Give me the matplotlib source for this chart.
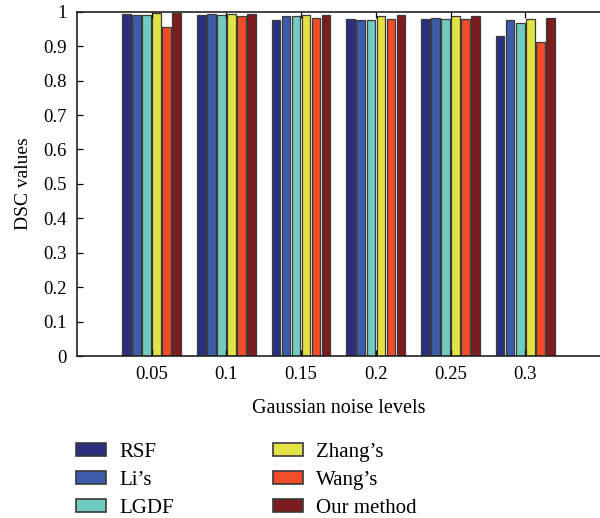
import numpy as np
import matplotlib.pyplot as plt

# data
noise_levels = ['0.05', '0.1', '0.15', '0.2', '0.25', '0.3']
methods = ['RSF', "Li’s", 'LGDF', "Zhang’s", "Wang’s", 'Our method']
rsf = [0.993, 0.991, 0.976, 0.978, 0.979, 0.930]
lis = [0.991, 0.992, 0.987, 0.977, 0.983, 0.976]
lgdf = [0.991, 0.991, 0.988, 0.977, 0.979, 0.966]
zhang = [0.996, 0.992, 0.991, 0.988, 0.988, 0.980]
wang = [0.956, 0.987, 0.982, 0.978, 0.979, 0.911]
ours = [0.996, 0.993, 0.991, 0.989, 0.988, 0.981]
colors = ['#2c2f7f', '#3b5ca8', '#72cbc0', '#e3e345', '#f04d28', '#7d1c1c']

series = [rsf, lis, lgdf, zhang, wang, ours]

plt.rcParams['font.family'] = ['Liberation Serif', 'DejaVu Serif']

fig = plt.figure(figsize=(6, 5.18), dpi=100)
ax = fig.add_axes([0.128, 0.3127, 0.872, 0.6647])

x = np.arange(1, len(noise_levels) + 1)
pitch = 0.134
w = 0.114
for i, (vals, name, c) in enumerate(zip(series, methods, colors)):
    ax.bar(x + (i - 2.5) * pitch, vals, width=w, color=c,
           edgecolor='#3a3a3a', linewidth=0.9, label=name)

ax.set_xlim(0, 7)
ax.set_ylim(0, 1)
ax.set_xticks(x)
ax.set_xticklabels(noise_levels)
ax.set_yticks(np.arange(0, 1.01, 0.1))
ax.set_yticklabels(['0', '0.1', '0.2', '0.3', '0.4', '0.5', '0.6', '0.7', '0.8', '0.9', '1'])
ax.tick_params(direction='in', length=4, width=0.9, top=True, right=False,
               labelsize=13.5, pad=7)
ax.spines['right'].set_visible(False)
for s in ['left', 'top', 'bottom']:
    ax.spines[s].set_linewidth(1.2)
    ax.spines[s].set_color('#222222')

ax.set_xlabel('Gaussian noise levels', fontsize=14.5, labelpad=12)
ax.set_ylabel('DSC values', fontsize=14, labelpad=8)

h, l = ax.get_legend_handles_labels()
leg = fig.legend(h, l, ncol=2, loc='upper left',
                 bbox_to_anchor=(76 / 600, 1 - 443 / 518),
                 bbox_transform=fig.transFigure,
                 frameon=False, borderpad=0, borderaxespad=0,
                 handlelength=1.45, handleheight=0.62, handletextpad=0.62,
                 columnspacing=4.75, labelspacing=0.42, fontsize=15)
for p in leg.get_patches():
    p.set_edgecolor('#3a3a3a')
    p.set_linewidth(1.2)

fig.savefig('out.png', dpi=100)
